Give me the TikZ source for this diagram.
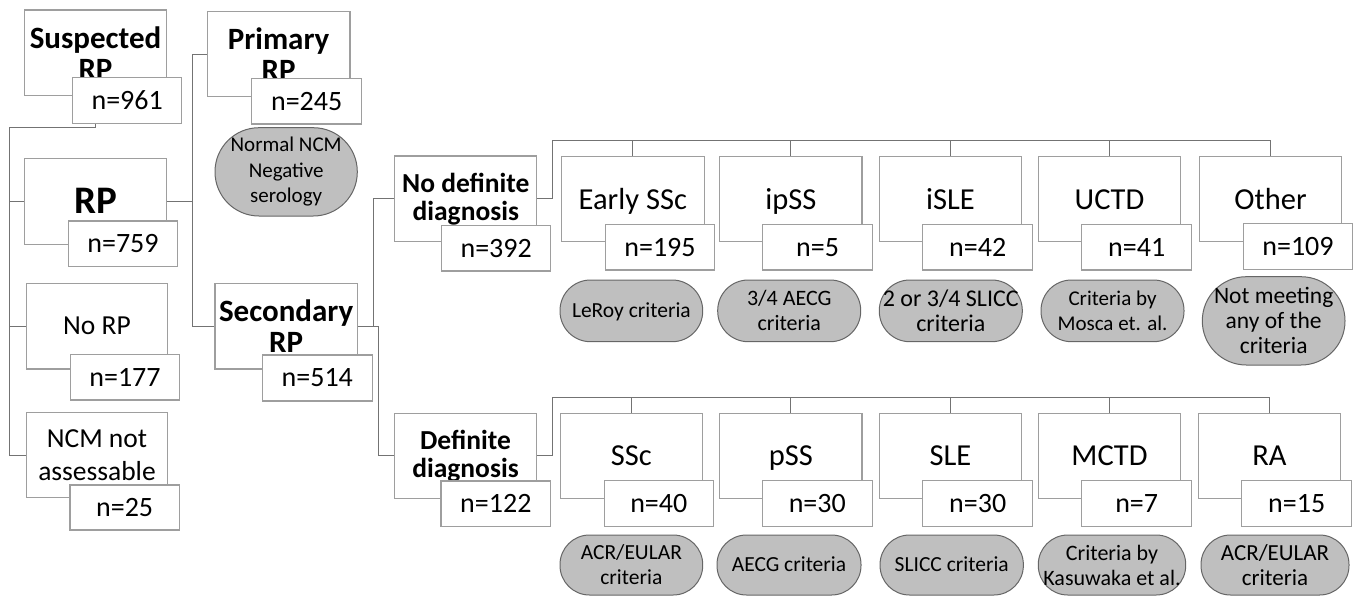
\documentclass[tikz,border=0pt]{standalone}
\usepackage{fontspec}
\setmainfont{Carlito}
\begin{document}
\begin{tikzpicture}[x=1pt,y=-1pt,
  box/.style={draw=black!38, fill=white, line width=1.1pt, inner sep=0pt, align=center, font=\fontsize{27.5}{33}\selectfont},
  bbox/.style={box, font=\bfseries\fontsize{31}{31}\selectfont},
  cat/.style={box, minimum width=142.4pt, font=\fontsize{30.5}{33}\selectfont, text height=19.6pt, text depth=0pt},
  nbox/.style={draw=black!38, fill=white, line width=1.1pt, inner sep=0pt, font=\fontsize{28}{30}\selectfont},
  oval/.style={draw=black!60, fill=black!25, line width=1pt, inner sep=0pt, align=center, font=\fontsize{21.5}{25}\selectfont},
  oval1/.style={oval, text height=13.8pt, text depth=0pt},
  conn/.style={draw=black!55, line width=1.1pt}
]
\useasboundingbox (0,0) rectangle (1359,595);

% coordinates for connector bends
\coordinate (s1) at (9.3,127.3);
\coordinate (b1) at (192.7,0);
\coordinate (b2) at (378.3,0);
\coordinate (b3) at (373.3,0);
\coordinate (t1) at (552.3,140.5);
\coordinate (t2) at (552.3,397.3);

% ---------- Column 1
\node[bbox, minimum width=142.4pt, minimum height=85.7pt] (sus) at (95.5,52.85) {Suspected\\RP};
\node[bbox, font=\bfseries\fontsize{39}{40}\selectfont, minimum width=142.4pt, minimum height=86pt] (rp) at (95.5,201.3) {RP};
\node[box, minimum width=141.6pt, minimum height=85.7pt] (norp) at (97,326.15) {No RP};
\node[box, minimum width=141.6pt, minimum height=85pt] (ncm) at (97,455.2) {NCM not\\assessable};

% ---------- Column 2
\node[bbox, minimum width=142.7pt, minimum height=85pt] (prim) at (278.65,54.2) {Primary\\RP};
\node[oval, font=\fontsize{21}{25.5}\selectfont, rounded corners=44pt, minimum width=142.3pt, minimum height=88.3pt] (normal) at (286.15,171.85) {Normal NCM\\Negative\\serology};
\node[bbox, minimum width=142.3pt, minimum height=85.7pt] (sec) at (286.15,326.15) {Secondary\\RP};

% ---------- Column 3
\node[bbox, font=\bfseries\fontsize{27.5}{28}\selectfont, minimum width=141.8pt, minimum height=85.7pt] (nodef) at (465.8,198.85) {No definite\\diagnosis};
\node[bbox, font=\bfseries\fontsize{27.5}{28}\selectfont, minimum width=142.4pt, minimum height=85pt] (def) at (465.5,455.8) {Definite\\diagnosis};

% ---------- Top row categories
\node[cat, minimum height=85pt] (essc) at (632.85,199.2) {Early SSc};
\node[cat, minimum height=85pt] (ipss) at (790.8,199.2) {ipSS};
\node[cat, minimum height=85pt] (isle) at (950.5,199.2) {iSLE};
\node[cat, minimum height=85pt] (uctd) at (1109.5,199.2) {UCTD};
\node[cat, minimum height=85pt] (other) at (1270.5,199.2) {Other};

% ---------- Bottom row categories
\node[cat, minimum height=85pt] (ssc) at (631.35,455.8) {SSc};
\node[cat, minimum height=85pt] (pss) at (790.8,455.8) {pSS};
\node[cat, minimum height=85pt] (sle) at (950.5,455.8) {SLE};
\node[cat, minimum height=85pt] (mctd) at (1109.5,455.8) {MCTD};
\node[cat, minimum height=85pt] (ra) at (1269.5,455.8) {RA};

% ---------- connectors (drawn before the count boxes, which cover them)
\draw[conn] (sus.south) |- (s1) |- (ncm.west);
\draw[conn] (s1 |- rp.west) -- (rp.west);
\draw[conn] (s1 |- norp.west) -- (norp.west);
\draw[conn] (rp.east) -- (b1 |- rp.east);
\draw[conn] (prim.west) -- (b1 |- prim.west) -- (b1 |- sec.west) -- (sec.west);
\draw[conn] (sec.east) -- (b2 |- sec.east) -- (b2 |- def.west) -- (def.west);
\draw[conn] (nodef.west) -- (b3 |- nodef.west) -- (b3 |- sec.east);
\draw[conn] (nodef.east) -| (t1) -- (t1 -| other.north) -- (other.north);
\foreach \n in {essc,ipss,isle,uctd} \draw[conn] (t1 -| \n.north) -- (\n.north);
\draw[conn] (def.east) -| (t2) -- (t2 -| ra.north) -- (ra.north);
\foreach \n in {ssc,pss,sle,mctd} \draw[conn] (t2 -| \n.north) -- (\n.north);

% ---------- count boxes
\node[nbox, minimum width=109pt, minimum height=45.6pt] (n961) at (127.2,100.5) {n=961};
\node[nbox, minimum width=109.4pt, minimum height=45.7pt] (n759) at (123,243.85) {n=759};
\node[nbox, minimum width=108.6pt, minimum height=45.7pt] (n177) at (125,377.15) {n=177};
\node[nbox, minimum width=109.3pt, minimum height=45pt] (n25) at (124.65,507.5) {n=25};
\node[nbox, minimum width=110pt, minimum height=45.7pt] (n245) at (306.7,101.15) {n=245};
\node[nbox, minimum width=110pt, minimum height=46pt] (n514) at (317.3,378) {n=514};
\node[nbox, minimum width=109pt, minimum height=45.7pt] (n392) at (496.2,248.15) {n=392};
\node[nbox, minimum width=109.7pt, minimum height=45.7pt] (n122) at (495.85,503.85) {n=122};

\node[nbox, minimum width=109pt, minimum height=45.7pt] (n195) at (660,247.15) {n=195};
\node[nbox, minimum width=110pt, minimum height=45.7pt] (n5) at (817.6,247.15) {n=5};
\node[nbox, minimum width=110pt, minimum height=45.7pt] (n42) at (977.7,247.15) {n=42};
\node[nbox, minimum width=110pt, minimum height=45.7pt] (n41) at (1136.7,247.15) {n=41};
\node[nbox, minimum width=109.4pt, minimum height=46pt] (n109) at (1298,246.3) {n=109};

\node[nbox, minimum width=109pt, minimum height=46.5pt] (n40) at (658.8,503.3) {n=40};
\node[nbox, minimum width=110pt, minimum height=46.5pt] (n30a) at (817.3,503.3) {n=30};
\node[nbox, minimum width=110pt, minimum height=46.5pt] (n30b) at (977.7,503.3) {n=30};
\node[nbox, minimum width=110pt, minimum height=46.5pt] (n7) at (1136.7,503.3) {n=7};
\node[nbox, minimum width=110pt, minimum height=46.5pt] (n15) at (1296.7,503.3) {n=15};

% ---------- criteria ovals
\node[oval1, rounded corners=30.5pt, minimum width=142.7pt, minimum height=61.7pt] (leroy) at (631.35,310.85) {LeRoy criteria};
\node[oval, font=\fontsize{22}{25}\selectfont, rounded corners=30.5pt, minimum width=143pt, minimum height=61.7pt] (aecga) at (789.2,310.85) {3/4 AECG\\criteria};
\node[oval, font=\fontsize{24}{25}\selectfont, rounded corners=30.5pt, minimum width=143pt, minimum height=61.7pt] (slicca) at (950.8,310.85) {2 or 3/4 SLICC\\criteria};
\node[oval, font=\fontsize{21}{25}\selectfont, rounded corners=30.5pt, minimum width=143pt, minimum height=61.7pt] (mosca) at (1112.5,310.85) {Criteria by\\Mosca et. al.};
\node[oval, font=\fontsize{23.5}{25}\selectfont, rounded corners=44pt, minimum width=142.7pt, minimum height=88.3pt] (notmeet) at (1273.65,320.85) {Not meeting\\any of the\\criteria};

\node[oval, rounded corners=29.5pt, minimum width=142.7pt, minimum height=60pt] (acra) at (631.35,565) {ACR/EULAR\\criteria};
\node[oval1, rounded corners=29.5pt, minimum width=144pt, minimum height=60pt] (aecgb) at (789,565) {AECG criteria};
\node[oval1, rounded corners=29.5pt, minimum width=143.3pt, minimum height=60pt] (sliccb) at (951.7,565) {SLICC criteria};
\node[oval, font=\fontsize{22}{25}\selectfont, rounded corners=29.5pt, minimum width=147.4pt, minimum height=60pt] (kasu) at (1112,565) {Criteria by\\Kasuwaka et al.};
\node[oval, font=\fontsize{23}{25}\selectfont, rounded corners=29.5pt, minimum width=148pt, minimum height=60pt] (acrb) at (1275,565) {ACR/EULAR\\criteria};
\end{tikzpicture}
\end{document}
